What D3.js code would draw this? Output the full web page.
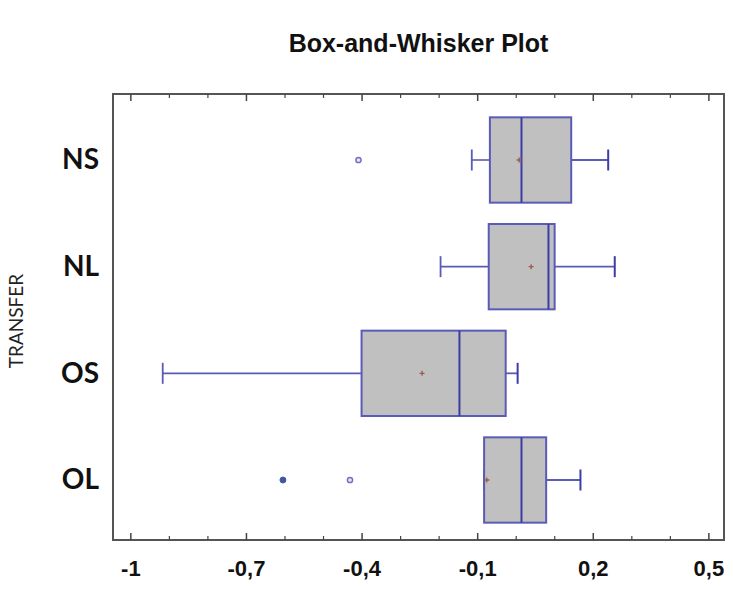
<!DOCTYPE html>
<html>
<head>
<meta charset="utf-8">
<script src="https://cdn.jsdelivr.net/npm/d3@7"></script>
<style>
  html, body { margin: 0; padding: 0; background: #fff; }
  svg { display: block; }
</style>
</head>
<body>
<svg id="chart" width="733" height="589"></svg>
<script>
// ---- data ----
const categories  = ["NS", "NL", "OS", "OL"];
const whiskerLow  = [-0.114, -0.195, -0.916, -0.082];
const q1          = [-0.067, -0.070, -0.400, -0.082];
const median      = [ 0.015,  0.085, -0.146,  0.015];
const q3          = [ 0.144,  0.101, -0.026,  0.079];
const whiskerHigh = [ 0.240,  0.257,  0.005,  0.168];
const means       = [ 0.009,  0.040, -0.243, -0.075];
const outliers    = [[-0.408], [], [], [-0.430]];
const farOutliers = [[], [], [], [-0.604]];
const majorTicks  = [-1, -0.7, -0.4, -0.1, 0.2, 0.5];
const minorTicks  = [-0.9, -0.8, -0.6, -0.5, -0.3, -0.2, 0, 0.1, 0.3, 0.4];
const xDomain     = [-1.045, 0.5405];
const titleText   = "Box-and-Whisker Plot";
const yTitle      = "TRANSFER";

// ---- layout ----
const svg = d3.select("#chart");
const pL = 113, pR = 724, pT = 94, pB = 540;

const x = d3.scaleLinear().domain(xDomain).range([pL, pR]);
const y = d3.scalePoint().domain(categories).range([pT + 66, pB - 60]);
const boxH = y.step() * 0.8;
const capH = 21;

const locale = d3.formatLocale({decimal: ",", thousands: ".", grouping: [3], currency: ["", ""], minus: "-"});
const fmt = locale.format("~g");

const boxStroke = "#5a5ab8";
const medStroke = "#3c3ca6";

// title
svg.append("text")
  .attr("x", (pL + pR) / 2).attr("y", 52)
  .attr("text-anchor", "middle")
  .attr("font-family", "Liberation Sans, Arial, sans-serif")
  .attr("font-weight", "bold")
  .attr("font-size", 25)
  .attr("fill", "#111")
  .text(titleText);

// y title
svg.append("text")
  .attr("transform", `translate(23, ${(pT + pB) / 2 + 4}) rotate(-90)`)
  .attr("text-anchor", "middle")
  .attr("font-family", "Lato, Open Sans, sans-serif")
  .attr("font-size", 19)
  .attr("fill", "#222")
  .text(yTitle);

// frame
svg.append("rect")
  .attr("x", pL).attr("y", pT)
  .attr("width", pR - pL).attr("height", pB - pT)
  .attr("fill", "none").attr("stroke", "#555").attr("stroke-width", 2);

// bottom axis (ticks inward), and mirrored top ticks
const axB = svg.append("g").attr("transform", `translate(0,${pB})`)
  .call(d3.axisBottom(x).tickValues(majorTicks).tickSize(-7).tickFormat(fmt));
axB.select(".domain").remove();
axB.selectAll(".tick line").attr("stroke", "#444").attr("stroke-width", 1.5);
axB.selectAll(".tick text")
  .attr("y", 20).attr("dy", "0.71em")
  .attr("font-family", "Liberation Sans, Arial, sans-serif")
  .attr("font-weight", "bold").attr("font-size", 22).attr("fill", "#111");

const axBm = svg.append("g").attr("transform", `translate(0,${pB})`)
  .call(d3.axisBottom(x).tickValues(minorTicks).tickSize(-4).tickFormat(""));
axBm.select(".domain").remove();
axBm.selectAll(".tick line").attr("stroke", "#444").attr("stroke-width", 1.2);

const axT = svg.append("g").attr("transform", `translate(0,${pT})`)
  .call(d3.axisTop(x).tickValues(majorTicks).tickSize(-7).tickFormat(""));
axT.select(".domain").remove();
axT.selectAll(".tick line").attr("stroke", "#444").attr("stroke-width", 1.5);
const axTm = svg.append("g").attr("transform", `translate(0,${pT})`)
  .call(d3.axisTop(x).tickValues(minorTicks).tickSize(-4).tickFormat(""));
axTm.select(".domain").remove();
axTm.selectAll(".tick line").attr("stroke", "#444").attr("stroke-width", 1.2);

// category labels
const axL = svg.append("g").attr("transform", `translate(${pL},0)`)
  .call(d3.axisLeft(y).tickSize(0).tickPadding(14));
axL.select(".domain").remove();
axL.selectAll(".tick text")
  .attr("font-family", "Lato, Open Sans, sans-serif")
  .attr("font-weight", "bold").attr("font-size", 28).attr("fill", "#111");

// boxes
const data = categories.map((c, i) => ({
  c, lo: whiskerLow[i], q1: q1[i], med: median[i], q3: q3[i], hi: whiskerHigh[i],
  mean: means[i], out: outliers[i], far: farOutliers[i]
}));

const g = svg.append("g");
const b = g.selectAll("g.box").data(data).join("g").attr("class", "box");

// whiskers
b.append("line")
  .attr("x1", d => x(d.lo)).attr("x2", d => x(d.q1))
  .attr("y1", d => y(d.c)).attr("y2", d => y(d.c))
  .attr("stroke", boxStroke).attr("stroke-width", 1.6);
b.append("line")
  .attr("x1", d => x(d.q3)).attr("x2", d => x(d.hi))
  .attr("y1", d => y(d.c)).attr("y2", d => y(d.c))
  .attr("stroke", boxStroke).attr("stroke-width", 1.8);
b.append("line")
  .attr("x1", d => x(d.lo)).attr("x2", d => x(d.lo))
  .attr("y1", d => y(d.c) - capH / 2).attr("y2", d => y(d.c) + capH / 2)
  .attr("stroke", boxStroke).attr("stroke-width", 1.8);
b.append("line")
  .attr("x1", d => x(d.hi)).attr("x2", d => x(d.hi))
  .attr("y1", d => y(d.c) - capH / 2).attr("y2", d => y(d.c) + capH / 2)
  .attr("stroke", medStroke).attr("stroke-width", 2);

// box
b.append("rect")
  .attr("x", d => x(d.q1)).attr("width", d => x(d.q3) - x(d.q1))
  .attr("y", d => y(d.c) - boxH / 2).attr("height", boxH)
  .attr("fill", "#c0c0c0").attr("stroke", boxStroke).attr("stroke-width", 2);

// median
b.append("line")
  .attr("x1", d => x(d.med)).attr("x2", d => x(d.med))
  .attr("y1", d => y(d.c) - boxH / 2).attr("y2", d => y(d.c) + boxH / 2)
  .attr("stroke", medStroke).attr("stroke-width", 2);

// mean marker
b.append("path")
  .attr("d", d => `M${x(d.mean) - 2.5},${y(d.c)}h5M${x(d.mean)},${y(d.c) - 2.5}v5`)
  .attr("stroke", "#9a5a4a").attr("stroke-width", 1.3);

// outliers
b.selectAll("circle.out").data(d => d.out.map(v => ({v, c: d.c}))).join("circle")
  .attr("class", "out")
  .attr("cx", d => x(d.v)).attr("cy", d => y(d.c)).attr("r", 2.6)
  .attr("fill", "#e8e8f4").attr("stroke", "#7070c0").attr("stroke-width", 1.5);
b.selectAll("circle.far").data(d => d.far.map(v => ({v, c: d.c}))).join("circle")
  .attr("class", "far")
  .attr("cx", d => x(d.v)).attr("cy", d => y(d.c)).attr("r", 3)
  .attr("fill", "#3a5a9a").attr("stroke", "#4a5aa8").attr("stroke-width", 1);
</script>
</body>
</html>
